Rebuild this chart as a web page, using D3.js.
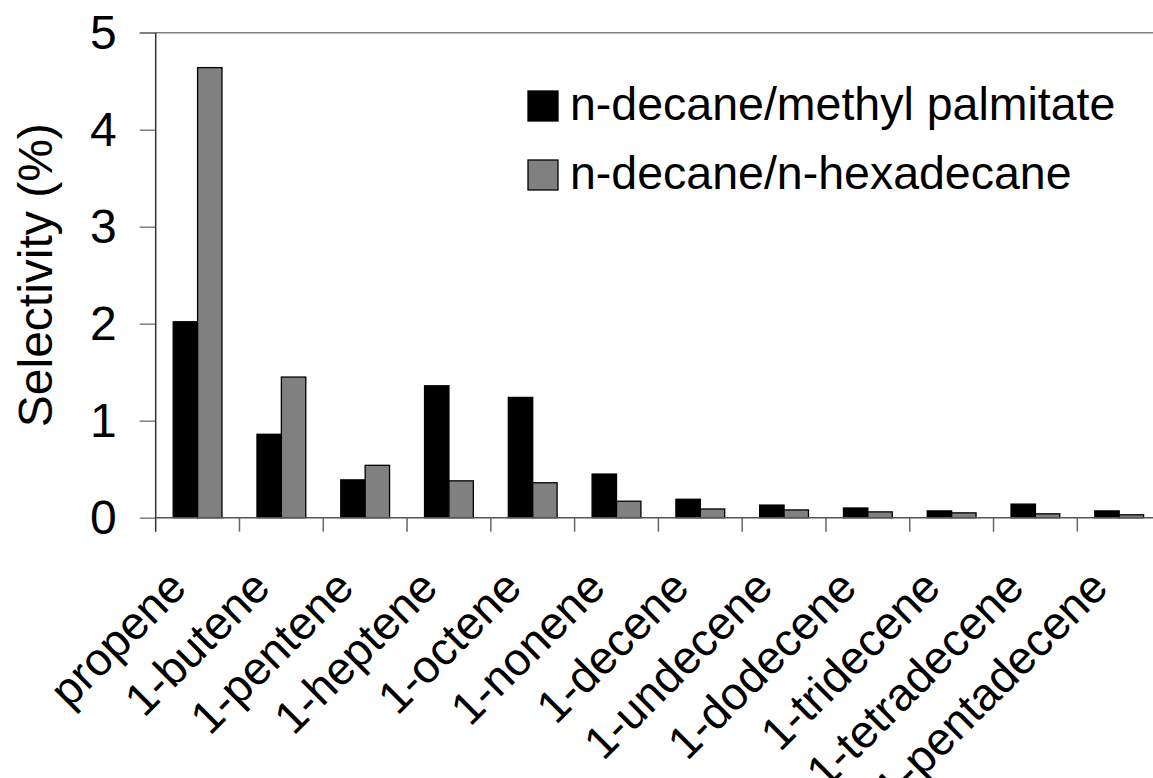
<!DOCTYPE html>
<html>
<head>
<meta charset="utf-8">
<script src="https://cdn.jsdelivr.net/npm/d3@7"></script>
<style>
  html, body { margin: 0; padding: 0; background: #fff; }
  svg { display: block; }
  text { font-family: "Liberation Sans", Arial, sans-serif; fill: #000; }
</style>
</head>
<body>
<svg id="chart" width="1153" height="778"></svg>
<script>
const categories = ["propene", "1-butene", "1-pentene", "1-heptene", "1-octene", "1-nonene",
  "1-decene", "1-undecene", "1-dodecene", "1-tridecene", "1-tetradecene", "1-pentadecene"];
const seriesNames = ["n-decane/methyl palmitate", "n-decane/n-hexadecane"];
const methylPalmitate = [2.02, 0.86, 0.39, 1.36, 1.24, 0.45, 0.19, 0.13, 0.10, 0.07, 0.14, 0.07];
const hexadecane = [4.64, 1.45, 0.54, 0.38, 0.36, 0.17, 0.09, 0.08, 0.06, 0.05, 0.04, 0.03];
const yTicks = [0, 1, 2, 3, 4, 5];
const seriesColors = ["#000000", "#808080"];

const svg = d3.select("#chart");
const pLeft = 155.7, pRight = 1161.1, pTop = 32.7, pBottom = 517.7;

const x = d3.scaleBand().domain(categories).range([pLeft, pRight]).paddingInner(0).paddingOuter(0);
const xInner = d3.scaleBand().domain(seriesNames).range([0, x.bandwidth()]).paddingInner(0).paddingOuter(0.717);
const y = d3.scaleLinear().domain([0, 5]).range([pBottom, pTop]);

const data = categories.map((c, i) => ({ cat: c, values: [methylPalmitate[i], hexadecane[i]] }));

// top border line
svg.append("line")
  .attr("x1", pLeft - 16).attr("x2", 1153)
  .attr("y1", y(5)).attr("y2", y(5))
  .attr("stroke", "#808080").attr("stroke-width", 1.5);

// bars
const groups = svg.append("g").selectAll("g").data(data).join("g")
  .attr("transform", d => `translate(${x(d.cat)},0)`);
groups.selectAll("rect").data(d => d.values.map((v, k) => ({ v, k })))
  .join("rect")
  .attr("x", d => xInner(seriesNames[d.k]))
  .attr("width", xInner.bandwidth())
  .attr("y", d => y(d.v))
  .attr("height", d => y(0) - y(d.v))
  .attr("fill", d => seriesColors[d.k])
  .attr("stroke", "#000").attr("stroke-width", 1.3);

// y axis
const yAxis = d3.axisLeft(y).tickValues(yTicks).tickSize(16).tickPadding(23).tickFormat(d3.format("d"));
const yg = svg.append("g").attr("transform", `translate(${pLeft},0)`).call(yAxis);
yg.select(".domain").remove();
yg.selectAll(".tick line").attr("stroke", "#808080").attr("stroke-width", 1.5);
yg.selectAll(".tick text").attr("font-size", 48).attr("font-family", "Liberation Sans, Arial, sans-serif").attr("fill", "#000");
svg.append("line").attr("x1", pLeft).attr("x2", pLeft).attr("y1", pTop).attr("y2", pBottom + 14)
  .attr("stroke", "#333").attr("stroke-width", 1.5);

// x axis baseline and ticks at category boundaries
svg.append("line").attr("x1", pLeft).attr("x2", 1153).attr("y1", pBottom).attr("y2", pBottom)
  .attr("stroke", "#555").attr("stroke-width", 1.5);
svg.append("g").selectAll("line").data(categories)
  .join("line")
  .attr("x1", d => x(d) + x.step())
  .attr("x2", d => x(d) + x.step())
  .attr("y1", pBottom).attr("y2", pBottom + 14)
  .attr("stroke", "#666").attr("stroke-width", 1.5);

// category labels
svg.append("g").selectAll("text").data(categories).join("text")
  .attr("transform", d => `translate(${x(d) + x.bandwidth() / 2 - 9},590) rotate(-45)`)
  .attr("text-anchor", "end")
  .attr("font-size", 46)
  .text(d => d);

// y title
svg.append("text")
  .attr("transform", `translate(52,${(pTop + pBottom) / 2}) rotate(-90)`)
  .attr("text-anchor", "middle")
  .attr("font-size", 48)
  .text("Selectivity (%)");

// legend
const legend = svg.append("g").selectAll("g").data(seriesNames).join("g")
  .attr("transform", (d, i) => `translate(528,${91 + i * 69})`);
legend.append("rect").attr("width", 30).attr("height", 30)
  .attr("fill", (d, i) => seriesColors[i]).attr("stroke", "#000").attr("stroke-width", 1.3);
legend.append("text").attr("x", 42).attr("y", 29).attr("font-size", 46.5).text(d => d);
</script>
</body>
</html>
